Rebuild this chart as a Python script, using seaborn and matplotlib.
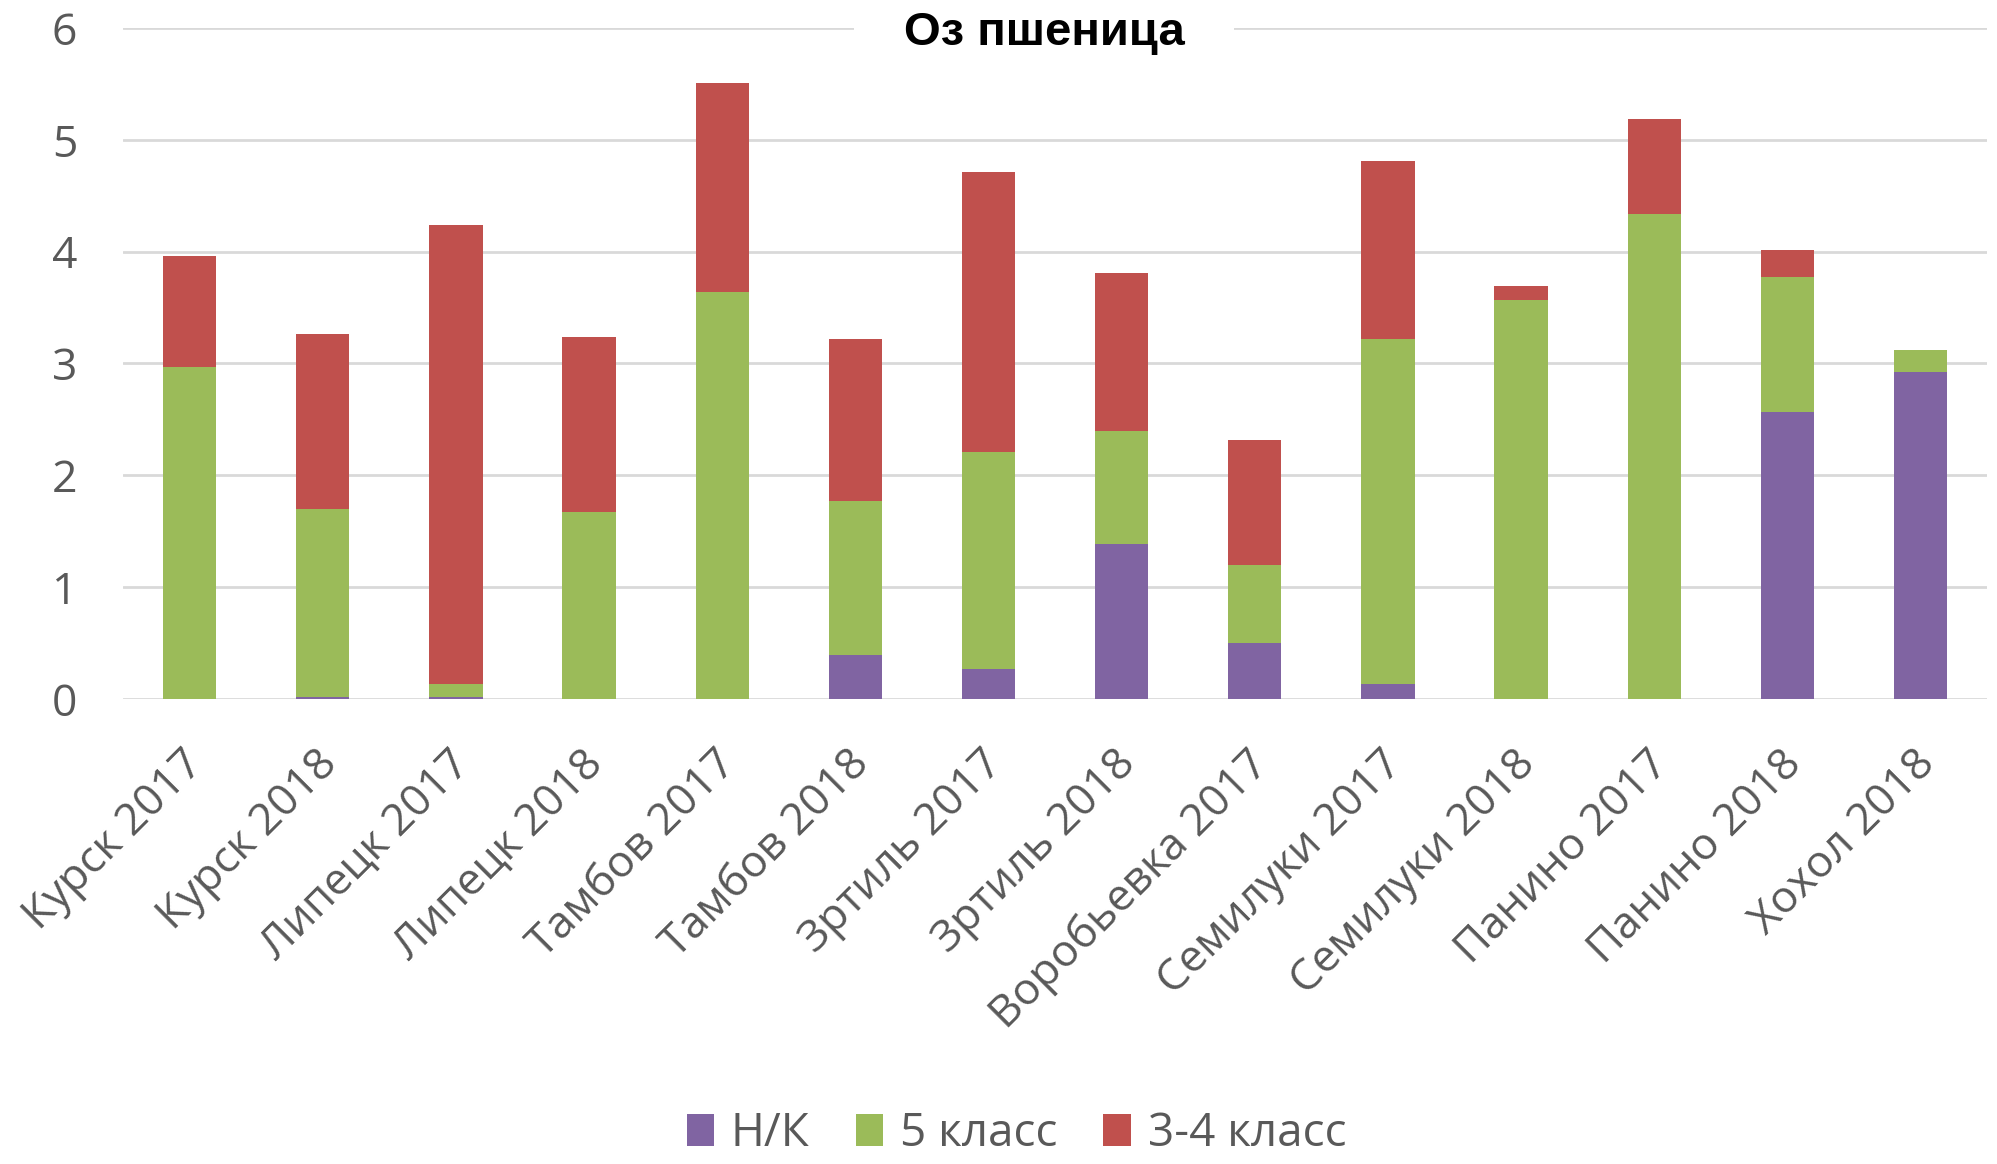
import matplotlib
matplotlib.use("Agg")
import matplotlib.pyplot as plt
import matplotlib.transforms as mtransforms
import seaborn as sns
import pandas as pd
import numpy as np
from matplotlib.patches import Patch

categories = ["Курск 2017", "Курск 2018", "Липецк 2017", "Липецк 2018", "Тамбов 2017",
              "Тамбов 2018", "Зртиль 2017", "Зртиль 2018", "Воробьевка 2017", "Семилуки 2017",
              "Семилуки 2018", "Панино 2017", "Панино 2018", "Хохол 2018"]
nk = [0.0, 0.02, 0.02, 0.0, 0.0, 0.39, 0.27, 1.39, 0.50, 0.13, 0.0, 0.0, 2.57, 2.92]
cls5 = [2.97, 1.68, 0.11, 1.67, 3.64, 1.38, 1.94, 1.01, 0.70, 3.09, 3.57, 4.34, 1.20, 0.20]
cls34 = [0.99, 1.56, 4.11, 1.57, 1.87, 1.45, 2.50, 1.41, 1.12, 1.59, 0.12, 0.85, 0.24, 0.0]
series_names = ["Н/К", "5 класс", "3-4 класс"]
colors = ["#8064A2", "#9BBB59", "#C0504D"]
title = "Оз пшеница"

df = pd.DataFrame({"cat": categories, "nk": nk, "c5": cls5, "c34": cls34})
df["s1"] = df["nk"]
df["s2"] = df["nk"] + df["c5"]
df["s3"] = df["s2"] + df["c34"]

sns.set_theme(style="white")
plt.rcParams["font.family"] = ["Open Sans", "DejaVu Sans"]

fig = plt.figure(figsize=(19.97, 11.64), dpi=100)
ax = fig.add_axes([0.0616, 0.3995, 0.9334, 0.5765])

for col, c in zip(["s3", "s2", "s1"], [colors[2], colors[1], colors[0]]):
    sns.barplot(data=df, x="cat", y=col, color=c, width=0.4, ax=ax,
                saturation=1, linewidth=0, order=categories, zorder=3)

ax.set_ylim(0, 6)
ax.set_yticks(range(0, 7))
ax.yaxis.grid(True, color="#d9d9d9", linewidth=2, zorder=0)
ax.set_axisbelow(True)
for s in ax.spines.values():
    s.set_visible(False)
ax.set_xlabel("")
ax.set_ylabel("")
ax.tick_params(axis="y", labelsize=32, labelcolor="#595959", length=0, pad=33)
ax.tick_params(axis="x", labelsize=32, labelcolor="#595959", length=0, pad=31)
offset = mtransforms.ScaledTranslation(-8 / 100, 0, fig.dpi_scale_trans)
for lab in ax.get_xticklabels():
    lab.set_rotation(45)
    lab.set_ha("right")
    lab.set_rotation_mode("anchor")
    lab.set_transform(lab.get_transform() + offset)

fig.text(0.5228, 0.972, title, ha="center", va="center", fontsize=34,
         fontweight="bold", family=["Liberation Sans", "DejaVu Sans"], color="black",
         bbox=dict(facecolor="white", edgecolor="none", pad=36), zorder=10)

handles = [Patch(facecolor=c, edgecolor="none") for c in colors]
fig.legend(handles, series_names, loc="center", bbox_to_anchor=(0.509, 0.026), ncol=3,
           frameon=False, fontsize=33, labelcolor="#595959", handlelength=0.6,
           handleheight=0.7, handletextpad=0.37, columnspacing=1.0)

fig.savefig("out.png", dpi=100)
